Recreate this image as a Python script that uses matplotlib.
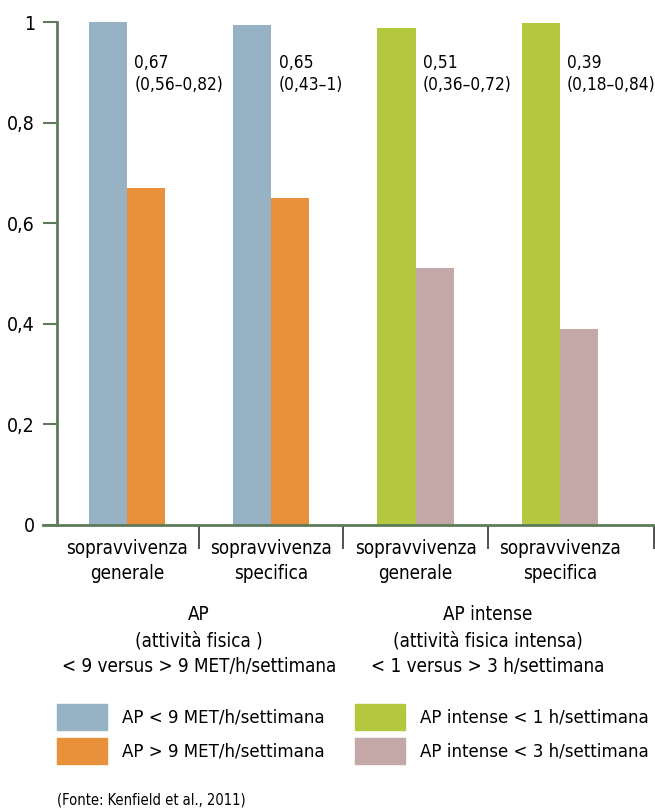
import matplotlib.pyplot as plt
from matplotlib.patches import Rectangle
import numpy as np

plt.rcParams['font.family'] = ['DejaVu Sans']
plt.rcParams['font.stretch'] = 'condensed'

# Dati (rischio relativo di mortalità)
categorie = ['sopravvivenza\ngenerale', 'sopravvivenza\nspecifica',
             'sopravvivenza\ngenerale', 'sopravvivenza\nspecifica']
riferimento = [1.0, 0.994, 0.988, 0.998]
confronto = [0.67, 0.65, 0.51, 0.39]
etichette = ['0,67\n(0,56–0,82)', '0,65\n(0,43–1)', '0,51\n(0,36–0,72)', '0,39\n(0,18–0,84)']
gruppi = ['AP\n(attività fisica )\n< 9 versus > 9 MET/h/settimana',
          'AP intense\n(attività fisica intensa)\n< 1 versus > 3 h/settimana']
legenda = ['AP < 9 MET/h/settimana', 'AP > 9 MET/h/settimana',
           'AP intense < 1 h/settimana', 'AP intense < 3 h/settimana']
yticks = [0, 0.2, 0.4, 0.6, 0.8, 1]
ytick_labels = ['0', '0,2', '0,4', '0,6', '0,8', '1']

blu = '#97b2c5'
arancio = '#e8913a'
verde = '#b3c73f'
rosa = '#c4a8a8'
assi = '#5e7a5a'

col_rif = [blu, blu, verde, verde]
col_conf = [arancio, arancio, rosa, rosa]

fig = plt.figure(figsize=(6.55, 8.10), dpi=100)
ax = fig.add_axes([57 / 655, 1 - 525 / 810, 1 - 57 / 655, 503 / 810])

x = np.arange(len(categorie))
w = 0.264
ax.bar(x - w / 2, riferimento, w, color=col_rif)
ax.bar(x + w / 2, confronto, w, color=col_conf)

for xi, testo in zip(x, etichette):
    ax.text(xi + 0.05, 0.937, testo, fontsize=12.4, va='top', ha='left', linespacing=1.3)

ax.set_xlim(-0.486, 3.66)
ax.set_ylim(0, 1)
ax.set_yticks(yticks)
ax.set_yticklabels(ytick_labels, fontsize=14)
ax.set_xticks(x)
ax.set_xticklabels(categorie, fontsize=13.5, linespacing=1.4)
ax.set_xticks([0.5, 1.5, 2.5, 3.655], minor=True)
ax.tick_params(axis='x', which='major', length=0, pad=10)
ax.tick_params(axis='x', which='minor', length=17, width=1.2, color='#333333')
ax.tick_params(axis='y', length=10, width=1.5, color=assi, pad=6)

for s in ['top', 'right']:
    ax.spines[s].set_visible(False)
for s in ['left', 'bottom']:
    ax.spines[s].set_color(assi)
    ax.spines[s].set_linewidth(2)
ax.spines['bottom'].set_bounds(-0.486 - 0.1, 3.66)
ax.spines['bottom'].set_clip_on(False)

# Titoli dei due gruppi
for xc, testo in zip([0.5, 2.5], gruppi):
    ax.text(xc, -0.16, testo, transform=ax.get_xaxis_transform(), fontsize=13.5,
            ha='center', va='top', linespacing=1.45)

# Legenda
colori_leg = [blu, arancio, verde, rosa]
pos_leg = [(57, 717), (57, 751), (355, 717), (355, 751)]
for (px, py), c, testo in zip(pos_leg, colori_leg, legenda):
    fig.patches.append(Rectangle((px / 655, 1 - (py + 13) / 810), 50 / 655, 26 / 810,
                                 transform=fig.transFigure, color=c))
    fig.text((px + 65) / 655, 1 - py / 810, testo, fontsize=13.3, va='center', ha='left')

fig.text(57 / 655, 1 - 800 / 810, '(Fonte: Kenfield et al., 2011)', fontsize=10.5,
         va='center', ha='left')

fig.savefig('out.png', dpi=100)
